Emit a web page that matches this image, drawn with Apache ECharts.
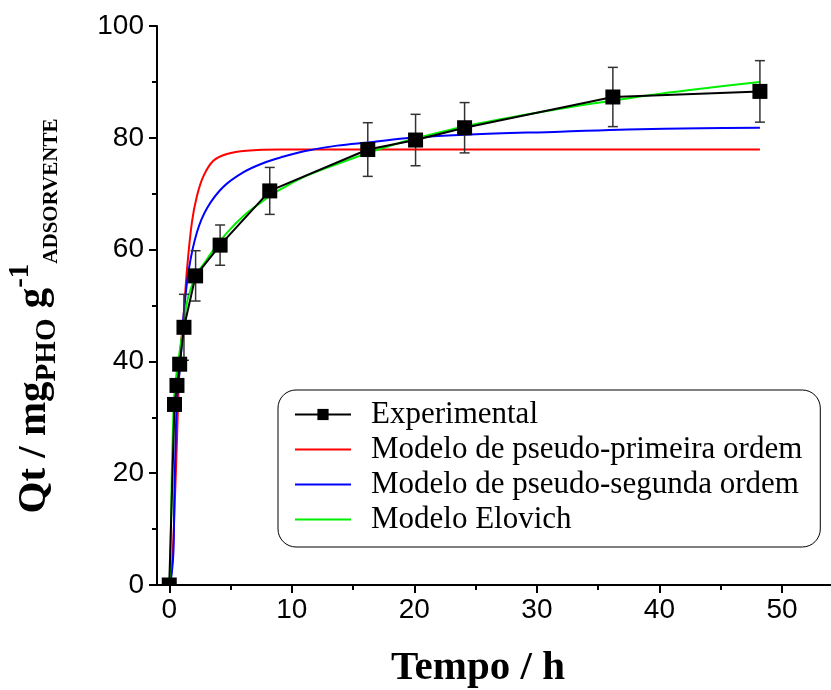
<!DOCTYPE html>
<html>
<head>
<meta charset="utf-8">
<script src="https://cdn.jsdelivr.net/npm/echarts@6/dist/echarts.min.js"></script>
<style>
  html, body { margin: 0; padding: 0; background: #fff; }
  #chart { width: 831px; height: 690px; }
</style>
</head>
<body>
<div id="chart"></div>
<script>
// Adsorption kinetics: experimental uptake and three fitted models
const tExp = [0, 0.43, 0.63, 0.85, 1.2, 2.15, 4.15, 8.2, 16.2, 20.1, 24.1, 36.2, 48.2];
const qExp = [0, 32.3, 35.7, 39.5, 46.1, 55.3, 60.8, 70.5, 77.9, 79.6, 81.8, 87.3, 88.3];
const qErr = [0, 0, 0, 0, 5.9, 4.5, 3.6, 4.2, 4.8, 4.6, 4.5, 5.3, 5.5];

// Pseudo-first-order fit
const tPFO = [0, 0.25, 0.49, 0.63, 0.76, 0.9, 1.15, 1.45, 1.85, 2.26, 2.8, 3.6, 4.7, 6.3, 9.1, 20, 35, 48.2];
const qPFO = [0, 4.6, 17, 26, 35, 41.7, 47.5, 56.5, 64.9, 69.6, 73.2, 75.9, 77.1, 77.7, 77.9, 77.9, 77.9, 77.9];

// Pseudo-second-order fit
const tPSO = [0, 0.2, 0.35, 0.41, 0.49, 0.63, 0.9, 1.17, 1.6, 2.26, 3.08, 4.4, 6.1, 7.7, 9.1, 11, 13.7, 16.4, 19.7, 24.6, 31.9, 37.4, 43.4, 48.2];
const qPSO = [0, 2, 6.4, 15.4, 23, 33, 39.5, 48.2, 56.5, 63.1, 67.4, 71.2, 73.9, 75.5, 76.5, 77.6, 78.6, 79.2, 80.0, 80.6, 81.1, 81.5, 81.7, 81.8];

// Elovich fit
const tElo = [0, 0.08, 0.17, 0.27, 0.41, 0.6, 0.76, 1.04, 1.45, 1.7, 2.2, 2.8, 3.6, 4.7, 6.1, 7.4, 8.2, 9.1, 11, 13.7, 16.1, 19.1, 23.2, 27.5, 31.9, 36, 40.1, 44.2, 48.2];
const qElo = [0, 3, 15.4, 25.6, 34, 38, 40.4, 44.6, 50.6, 52.6, 55.5, 57.4, 59.9, 63.0, 66.1, 68.3, 69.6, 70.8, 73.0, 75.3, 77.2, 79.3, 81.6, 83.5, 85.2, 86.6, 87.9, 89.0, 90.0];

const xMajor = [0, 10, 20, 30, 40, 50];
const xMinor = [5, 15, 25, 35, 45];

const seriesNames = ['Experimental', 'Modelo de pseudo-primeira ordem', 'Modelo de pseudo-segunda ordem', 'Modelo Elovich'];

function pairs(xs, ys) { return xs.map((x, i) => [x, ys[i]]); }

const chart = echarts.init(document.getElementById('chart'), null, { renderer: 'canvas' });

const sansLabel = { fontFamily: 'Liberation Sans', fontSize: 28, color: '#000' };
// flat stroke used as the legend key of the fitted curves
const lineKey = 'path://M0,0H56V2H0Z';

const option = {
  animation: false,
  backgroundColor: '#fff',
  grid: { left: 157, top: 26, width: 674, height: 559, containLabel: false },
  xAxis: [
    {
      type: 'value', min: -1, max: 54, position: 'bottom', z: 10,
      axisLine: { show: true, onZero: false, lineStyle: { color: '#000', width: 2 } },
      axisTick: { show: true, customValues: xMajor, length: 8, lineStyle: { color: '#000', width: 2 } },
      axisLabel: Object.assign({ customValues: xMajor, margin: 11 }, sansLabel),
      splitLine: { show: false }
    },
    {
      type: 'value', min: -1, max: 54, position: 'bottom', offset: 0, z: 10,
      axisLine: { show: false },
      axisTick: { show: true, customValues: xMinor, length: 5, lineStyle: { color: '#000', width: 2 } },
      axisLabel: { show: false },
      splitLine: { show: false }
    }
  ],
  yAxis: {
    type: 'value', min: 0, max: 100, interval: 20, z: 10,
    axisLine: { show: true, onZero: false, lineStyle: { color: '#000', width: 2 } },
    axisTick: { show: true, length: 8, lineStyle: { color: '#000', width: 2 } },
    minorTick: { show: true, splitNumber: 2, length: 5, lineStyle: { color: '#000', width: 2 } },
    axisLabel: Object.assign({ margin: 13 }, sansLabel),
    splitLine: { show: false }
  },
  legend: {
    data: [
      { name: seriesNames[0] },
      { name: seriesNames[1], icon: lineKey },
      { name: seriesNames[2], icon: lineKey },
      { name: seriesNames[3], icon: lineKey }
    ],
    orient: 'vertical',
    left: 278, top: 390,
    padding: [7, 18, 10, 16],
    itemGap: 0,
    itemWidth: 56,
    itemHeight: 14,
    backgroundColor: '#fff',
    borderColor: '#000',
    borderWidth: 1,
    borderRadius: 18,
    textStyle: { fontFamily: 'Liberation Serif', fontSize: 31, color: '#000', lineHeight: 35, padding: [0, 0, 0, 15] }
  },
  graphic: [
    {
      // the marker at the origin is cut off by the x axis
      type: 'rect', z: 8, silent: true,
      shape: { x: 158, y: 586, width: 24, height: 9 },
      style: { fill: '#fff' }
    },
    {
      type: 'text', x: 478, y: 668,
      style: { text: 'Tempo / h', font: 'bold 41px "Liberation Serif"', fill: '#000', align: 'center', verticalAlign: 'middle' }
    },
    {
      type: 'text', x: 34, y: 316, rotation: Math.PI / 2,
      style: {
        text: '{m|Qt / mg}{s|PHO}{m| g}{p|-1}{a|ADSORVENTE}',
        align: 'center', verticalAlign: 'middle', fill: '#000',
        rich: {
          m: { fontFamily: 'Liberation Serif', fontWeight: 'bold', fontSize: 41, lineHeight: 56, verticalAlign: 'middle', fill: '#000' },
          s: { fontFamily: 'Liberation Serif', fontWeight: 'bold', fontSize: 29, lineHeight: 56, verticalAlign: 'bottom', fill: '#000' },
          p: { fontFamily: 'Liberation Serif', fontWeight: 'bold', fontSize: 29, lineHeight: 56, verticalAlign: 'top', fill: '#000' },
          a: { fontFamily: 'Liberation Serif', fontWeight: 'bold', fontSize: 21, lineHeight: 56, verticalAlign: 'bottom', fill: '#000' }
        }
      }
    }
  ],
  series: [
    {
      name: seriesNames[1], type: 'line', symbol: 'none', z: 2,
      smooth: 0.35,
      lineStyle: { color: '#ff0000', width: 2 }, itemStyle: { color: '#ff0000' },
      data: pairs(tPFO, qPFO)
    },
    {
      name: seriesNames[2], type: 'line', symbol: 'none', z: 2,
      smooth: 0.35,
      lineStyle: { color: '#0000ff', width: 2 }, itemStyle: { color: '#0000ff' },
      data: pairs(tPSO, qPSO)
    },
    {
      name: seriesNames[3], type: 'line', symbol: 'none', z: 3,
      smooth: 0.35,
      lineStyle: { color: '#00ee00', width: 2 }, itemStyle: { color: '#00ee00' },
      data: pairs(tElo, qElo)
    },
    {
      // error bars
      type: 'custom', z: 4, silent: true,
      data: tExp.map((t, i) => [t, qExp[i], qErr[i]]).filter(d => d[2] > 0),
      renderItem: function (params, api) {
        const x = api.value(0), y = api.value(1), e = api.value(2);
        const top = api.coord([x, y + e]);
        const bot = api.coord([x, y - e]);
        const cap = 5;
        const st = { stroke: '#333', lineWidth: 1.5 };
        return {
          type: 'group',
          children: [
            { type: 'line', shape: { x1: top[0], y1: top[1], x2: bot[0], y2: bot[1] }, style: st },
            { type: 'line', shape: { x1: top[0] - cap, y1: top[1], x2: top[0] + cap, y2: top[1] }, style: st },
            { type: 'line', shape: { x1: bot[0] - cap, y1: bot[1], x2: bot[0] + cap, y2: bot[1] }, style: st }
          ]
        };
      }
    },
    {
      name: seriesNames[0], type: 'line', z: 5,
      symbol: 'rect', symbolSize: 15, showSymbol: true,
      lineStyle: { color: '#000', width: 2 }, itemStyle: { color: '#000' },
      data: pairs(tExp, qExp)
    }
  ]
};

chart.setOption(option);
</script>
</body>
</html>
